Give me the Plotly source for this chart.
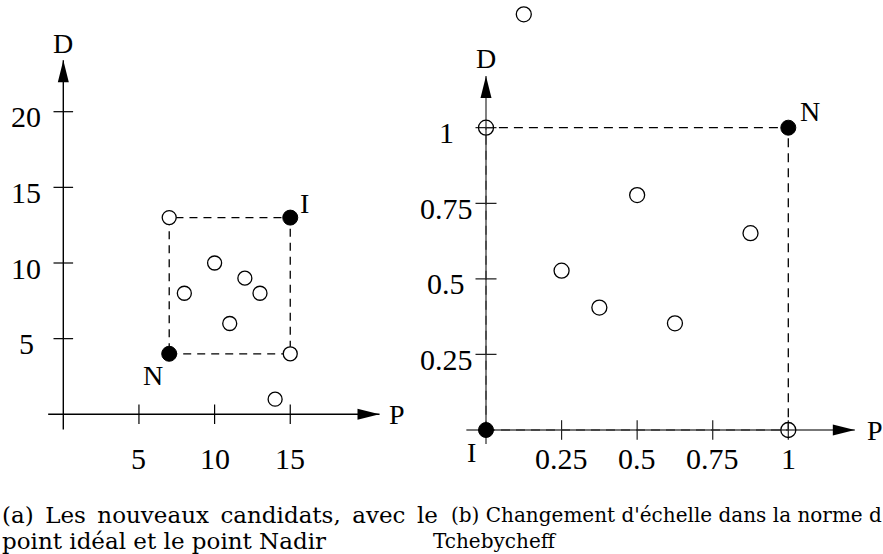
import plotly.graph_objects as go

# ---------------- data ----------------
# Panel (a): new candidates (P, D)
a_open_P = [7, 15, 10, 12, 13, 8, 11, 14]
a_open_D = [13, 4, 10, 9, 8, 8, 6, 1]
a_ideal = (15, 13)   # I
a_nadir = (7, 4)     # N
a_xticks = [5, 10, 15]
a_yticks = [5, 10, 15, 20]
a_xaxis_ext = (-1, 20.9)
a_yaxis_ext = (-1, 23.4)

# Panel (b): rescaled (Tchebycheff)
b_open_P = [0, 1, 0.5, 0.875, 0.25, 0.375, 0.625, 0.125]
b_open_D = [1, 0, 0.777, 0.651, 0.527, 0.405, 0.353, 1.375]
b_ideal = (0, 0)     # I
b_nadir = (1, 1)     # N
b_xticks = [0.25, 0.5, 0.75, 1]
b_yticks = [0.25, 0.5, 0.75, 1]
b_tick_labels = ["0.25", "0.5", "0.75", "1"]
b_xaxis_ext = (-0.065, 1.22)
b_yaxis_ext = (-0.046, 1.171)

GAP = "\u2002"  # justified line spacing
caption_a = [GAP.join(["(a)", "Les", "nouveaux", "candidats,", "avec", "le"]), "point idéal et le point Nadir"]
caption_b = ["(b) Changement d'échelle dans la norme d", "Tchebycheff"]

W, H = 883, 554
FONT = "Liberation Serif, Times New Roman, Times, serif"
CFONT = "DejaVu Serif, serif"
GREY = "#4a4a4a"

fig = go.Figure()

# ---------------- panel (a) ----------------
fig.add_trace(go.Scatter(x=a_xticks, y=[0]*len(a_xticks), mode="markers", xaxis="x", yaxis="y",
                         marker=dict(symbol="line-ns", size=14, line=dict(width=1.2, color="black")),
                         hoverinfo="skip", showlegend=False))
fig.add_trace(go.Scatter(x=[0]*len(a_yticks), y=a_yticks, mode="markers", xaxis="x", yaxis="y",
                         marker=dict(symbol="line-ew", size=14, line=dict(width=1.2, color="black")),
                         hoverinfo="skip", showlegend=False))
fig.add_trace(go.Scatter(x=a_open_P, y=a_open_D, mode="markers", xaxis="x", yaxis="y",
                         marker=dict(symbol="circle", size=14, color="white", line=dict(width=1.3, color="black")),
                         showlegend=False))
fig.add_trace(go.Scatter(x=[a_ideal[0], a_nadir[0]], y=[a_ideal[1], a_nadir[1]], mode="markers",
                         xaxis="x", yaxis="y",
                         marker=dict(symbol="circle", size=15, color="black", line=dict(width=1, color="black")),
                         showlegend=False))

# ---------------- panel (b) ----------------
fig.add_trace(go.Scatter(x=b_xticks, y=[0]*len(b_xticks), mode="markers", xaxis="x2", yaxis="y2",
                         marker=dict(symbol="line-ns", size=14, line=dict(width=1.2, color="#222")),
                         hoverinfo="skip", showlegend=False))
fig.add_trace(go.Scatter(x=[0]*len(b_yticks), y=b_yticks, mode="markers", xaxis="x2", yaxis="y2",
                         marker=dict(symbol="line-ew", size=15, line=dict(width=1.2, color="#222")),
                         hoverinfo="skip", showlegend=False))
fig.add_trace(go.Scatter(x=b_open_P, y=b_open_D, mode="markers", xaxis="x2", yaxis="y2",
                         marker=dict(symbol="circle-open", size=15, color="black", line=dict(width=1.3)),
                         showlegend=False))
fig.add_trace(go.Scatter(x=[b_ideal[0], b_nadir[0]], y=[b_ideal[1], b_nadir[1]], mode="markers",
                         xaxis="x2", yaxis="y2",
                         marker=dict(symbol="circle", size=15, color="black", line=dict(width=1, color="black")),
                         showlegend=False))

shapes = []
annotations = []


def add_axes(xr, yr, xext, yext, color):
    shapes.append(dict(type="line", xref=xr, yref=yr, x0=xext[0], x1=xext[1], y0=0, y1=0,
                       line=dict(color=color, width=1.4), layer="below"))
    shapes.append(dict(type="line", xref=xr, yref=yr, x0=0, x1=0, y0=yext[0], y1=yext[1],
                       line=dict(color=color, width=1.4), layer="below"))
    # arrowheads (pixel sized, anchored at the tips)
    shapes.append(dict(type="path", xref=xr, yref=yr, xsizemode="pixel", ysizemode="pixel",
                       xanchor=xext[1], yanchor=0, path="M0,0 L-22,5.5 L-22,-5.5 Z",
                       fillcolor="black", line=dict(width=0)))
    shapes.append(dict(type="path", xref=xr, yref=yr, xsizemode="pixel", ysizemode="pixel",
                       xanchor=0, yanchor=yext[1], path="M0,0 L5.5,-22 L-5.5,-22 Z",
                       fillcolor="black", line=dict(width=0)))


def label(xr, yr, x, y, text, size, xs=0, ys=0):
    annotations.append(dict(xref=xr, yref=yr, x=x, y=y, text=text, showarrow=False,
                            xanchor="center", yanchor="middle", xshift=xs, yshift=ys,
                            font=dict(family=FONT, size=size, color="black")))


# dashed boxes between ideal and nadir points
shapes.append(dict(type="rect", xref="x", yref="y", x0=a_nadir[0], x1=a_ideal[0], y0=a_nadir[1], y1=a_ideal[1],
                   line=dict(color="black", width=1.3, dash="8px,6px"), layer="below"))
shapes.append(dict(type="rect", xref="x2", yref="y2", x0=b_ideal[0], x1=b_nadir[0], y0=b_ideal[1], y1=b_nadir[1],
                   line=dict(color="black", width=1.3, dash="9px,6px"), layer="below"))

add_axes("x", "y", a_xaxis_ext, a_yaxis_ext, "black")
add_axes("x2", "y2", b_xaxis_ext, b_yaxis_ext, GREY)

TS = 30
for t in a_xticks:
    label("x", "y", t, 0, str(t), TS, ys=-44)
for t in a_yticks:
    label("x", "y", 0, t, str(t), TS, xs=-37, ys=-5)
for t, s in zip(b_xticks, b_tick_labels):
    label("x2", "y2", t, 0, s, TS, ys=-28)
for t, s in zip(b_yticks, b_tick_labels):
    label("x2", "y2", 0, t, s, TS, xs=-40, ys=-5)

LS = 28
label("x", "y", a_xaxis_ext[1], 0, "P", LS, xs=17)
label("x", "y", 0, a_yaxis_ext[1], "D", LS, ys=17)
label("x", "y", a_ideal[0], a_ideal[1], "I", LS, xs=14, ys=14)
label("x", "y", a_nadir[0], a_nadir[1], "N", LS, xs=-16, ys=-22)
label("x2", "y2", b_xaxis_ext[1], 0, "P", LS, xs=20)
label("x2", "y2", 0, b_yaxis_ext[1], "D", LS, ys=18)
label("x2", "y2", b_nadir[0], b_nadir[1], "N", LS, xs=22, ys=16)
label("x2", "y2", b_ideal[0], b_ideal[1], "I", LS, xs=-15, ys=-22)

for i, line in enumerate(caption_a):
    annotations.append(dict(xref="paper", yref="paper", x=0, y=1 - (515 + 26 * i) / H, text=line,
                            showarrow=False, xanchor="left", yanchor="middle",
                            font=dict(family=CFONT, size=23, color="black")))
for i, (line, x0) in enumerate(zip(caption_b, [449, 431])):
    annotations.append(dict(xref="paper", yref="paper", x=x0 / W, y=1 - (515 + 26 * i) / H, text=line,
                            showarrow=False, xanchor="left", yanchor="middle",
                            font=dict(family=CFONT, size=20, color="black")))

# pixel -> data mappings
ax_sc, ax_ox, ax_oy = 15.13, 63.3, 414.3
bx_sc, bx_ox, bx_oy = 302.3, 486.0, 430.0
split = W / 2
fig.update_layout(
    width=W, height=H, margin=dict(l=0, r=0, t=0, b=0),
    paper_bgcolor="white", plot_bgcolor="rgba(0,0,0,0)",
    showlegend=False,
    xaxis=dict(domain=[0, split / W], range=[(0 - ax_ox) / ax_sc, (split - ax_ox) / ax_sc], visible=False),
    yaxis=dict(domain=[0, 1], range=[(ax_oy - H) / ax_sc, ax_oy / ax_sc], visible=False),
    xaxis2=dict(domain=[split / W, 1], range=[(split - bx_ox) / bx_sc, (W - bx_ox) / bx_sc], visible=False),
    yaxis2=dict(domain=[0, 1], range=[(bx_oy - H) / bx_sc, bx_oy / bx_sc], visible=False, anchor="x2"),
    shapes=shapes, annotations=annotations,
)

fig.write_html("out.html")
